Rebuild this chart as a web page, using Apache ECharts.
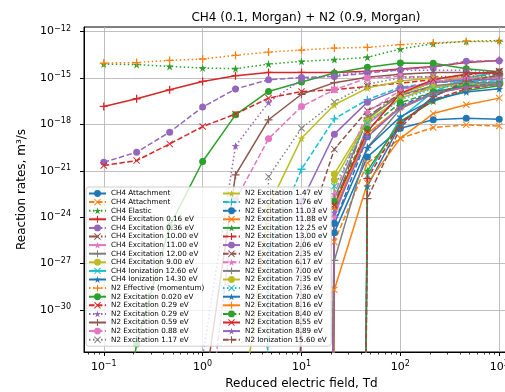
<!DOCTYPE html>
<html>
<head>
<meta charset="utf-8">
<script src="https://cdn.jsdelivr.net/npm/echarts@6/dist/echarts.min.js"></script>
<style>
html, body { margin: 0; padding: 0; background: #fff; }
#chart { width: 505px; height: 392px; }
</style>
</head>
<body>
<div id="chart"></div>
<script>
// reduced electric field E/N, Td
const fieldTd = [0.1, 0.215, 0.464, 1, 2.15, 4.64, 10, 21.5, 46.4, 100, 215, 464, 1000];
// rates stored as log10(k / (m^3/s)); OFF = rate practically zero (below threshold)
const OFF = -300;

const ch4Attach1 = [OFF, OFF, OFF, OFF, OFF, OFF, OFF, -25.0, -20.1, -18.25, -17.7, -17.6, -17.66];
const ch4Attach2 = [OFF, OFF, OFF, OFF, OFF, OFF, OFF, -25.6, -20.5, -18.9, -18.2, -18.03, -18.1];
const ch4Elastic = [-14.1, -14.13, -14.25, -14.35, -14.4, -14.1, -13.92, -13.81, -13.66, -13.12, -12.78, -12.63, -12.58];
const ch4Exc016 = [-16.84, -16.34, -15.76, -15.22, -14.85, -14.64, -14.64, -14.64, -14.57, -14.42, -14.25, -13.99, -13.86];
const ch4Exc036 = [-20.45, -19.8, -18.5, -16.88, -15.71, -15.11, -14.97, -14.9, -14.68, -14.46, -14.3, -13.92, -13.88];
const ch4Exc1000 = [OFF, OFF, OFF, OFF, OFF, OFF, OFF, -23.3, -17.5, -16.0, -15.3, -14.9, -14.75];
const ch4Exc1100 = [OFF, OFF, OFF, OFF, OFF, OFF, OFF, -24.0, -18.0, -16.3, -15.6, -15.2, -15.0];
const ch4Exc1200 = [OFF, OFF, OFF, OFF, OFF, OFF, OFF, -26.8, -19.5, -17.0, -16.0, -15.5, -15.3];
const ch4Exc900 = [OFF, OFF, OFF, OFF, OFF, OFF, OFF, -21.2, -17.7, -16.0, -15.3, -15.0, -14.9];
const ch4Ion1260 = [OFF, OFF, OFF, OFF, OFF, OFF, OFF, OFF, -21.3, -17.6, -15.9, -15.0, -14.6];
const ch4Ion1430 = [OFF, OFF, OFF, OFF, OFF, OFF, OFF, OFF, -22.0, -18.0, -16.2, -15.3, -14.9];
const n2Momentum = [-14.03, -14.0, -13.86, -13.77, -13.53, -13.32, -13.19, -13.06, -13.02, -12.84, -12.73, -12.63, -12.63];
const n2Exc0020 = [-45, -32.2, -24.6, -20.4, -17.38, -15.87, -15.26, -14.68, -14.31, -14.03, -14.05, -14.4, -14.6];
const n2Exc029a = [-20.66, -20.34, -19.26, -18.14, -17.33, -16.3, -15.87, -15.76, -15.54, -15.33, -15.11, -14.79, -14.57];
const n2Exc029b = [OFF, OFF, -60, -33, -19.39, -16.58, -15.1, -14.8, -14.6, -14.5, -14.5, -14.5, -14.6];
const n2Exc059 = [OFF, OFF, OFF, -36, -21.27, -17.7, -16.05, -15.3, -14.95, -14.75, -14.65, -14.65, -14.7];
const n2Exc088 = [OFF, OFF, OFF, -40, -22.9, -18.93, -16.84, -15.76, -15.0, -14.9, -14.95, -15.1, -15.3];
const n2Exc117 = [OFF, OFF, OFF, OFF, OFF, -21.38, -18.25, -16.55, -15.4, -15.0, -14.9, -14.9, -14.95];
const n2Exc147 = [OFF, OFF, OFF, OFF, -40, -23.3, -18.9, -16.73, -15.65, -15.2, -15.0, -15.0, -15.1];
const n2Exc176 = [OFF, OFF, OFF, OFF, OFF, -26, -20.9, -17.64, -16.4, -15.6, -15.3, -15.2, -15.2];
const n2Exc1103 = [OFF, OFF, OFF, OFF, OFF, OFF, OFF, -24.4, -18.8, -16.8, -15.9, -15.5, -15.3];
const n2Exc1188 = [OFF, OFF, OFF, OFF, OFF, OFF, OFF, -28.7, -21.8, -18.9, -17.3, -16.73, -16.3];
const n2Exc1225 = [OFF, OFF, OFF, OFF, OFF, OFF, OFF, OFF, -21.0, -17.8, -16.5, -15.8, -15.5];
const n2Exc1300 = [OFF, OFF, OFF, OFF, OFF, OFF, OFF, OFF, -21.5, -17.9, -16.4, -15.7, -15.4];
const n2Exc206 = [OFF, OFF, OFF, OFF, OFF, OFF, -23.0, -18.63, -16.56, -15.7, -15.3, -15.1, -15.1];
const n2Exc235 = [OFF, OFF, OFF, OFF, OFF, OFF, -26.0, -19.6, -17.1, -16.1, -15.6, -15.4, -15.3];
const n2Exc617 = [OFF, OFF, OFF, OFF, OFF, OFF, OFF, -22.5, -17.2, -15.8, -15.2, -15.0, -15.0];
const n2Exc700 = [OFF, OFF, OFF, OFF, OFF, OFF, OFF, -22.8, -17.6, -16.1, -15.5, -15.3, -15.3];
const n2Exc735 = [OFF, OFF, OFF, OFF, OFF, OFF, OFF, -21.6, -17.8, -16.3, -15.6, -15.4, -15.4];
const n2Exc736 = [OFF, OFF, OFF, OFF, OFF, OFF, OFF, -22.0, -17.9, -16.4, -15.7, -15.4, -15.3];
const n2Exc780 = [OFF, OFF, OFF, OFF, OFF, OFF, OFF, -24.4, -19.5, -17.5, -16.4, -15.9, -15.7];
const n2Exc816 = [OFF, OFF, OFF, OFF, OFF, OFF, OFF, -23.5, -18.6, -16.9, -16.0, -15.6, -15.4];
const n2Exc840 = [OFF, OFF, OFF, OFF, OFF, OFF, OFF, -23.0, -18.3, -16.6, -15.9, -15.5, -15.4];
const n2Exc855 = [OFF, OFF, OFF, OFF, OFF, OFF, OFF, -23.2, -18.46, -16.0, -15.1, -14.75, -14.57];
const n2Exc889 = [OFF, OFF, OFF, OFF, OFF, OFF, OFF, -23.7, -18.8, -16.9, -16.0, -15.6, -15.4];
const n2Ion1560 = [OFF, OFF, OFF, OFF, OFF, OFF, OFF, OFF, -22.8, -18.2, -16.2, -15.2, -14.8];

// tick labels (log10 exponents)
const xTicks = [-1, 0, 1, 2, 3];
const yTicks = [-30, -27, -24, -21, -18, -15, -12];

const palette = ['#1f77b4', '#ff7f0e', '#2ca02c', '#d62728', '#9467bd',
  '#8c564b', '#e377c2', '#7f7f7f', '#bcbd22', '#17becf'];
const marks = {
  circle: { symbol: 'circle', size: 7 },
  x: { symbol: 'path://M-10,-8L-8,-10L0,-2L8,-10L10,-8L2,0L10,8L8,10L0,2L-8,10L-10,8L-2,0Z', size: 7 },
  plus: { symbol: 'path://M-1.6,-10H1.6V-1.6H10V1.6H1.6V10H-1.6V1.6H-10V-1.6H-1.6Z', size: 8 },
  star: { symbol: 'path://M0,-10L2.245,-3.09L9.511,-3.09L3.633,1.18L5.878,8.09L0,3.82L-5.878,8.09L-3.633,1.18L-9.511,-3.09L-2.245,-3.09Z', size: 8 }
};
const dashes = {
  solid: 'solid',
  dashed: [5.5, 2.4],
  dotted: [1.5, 2.5],
  dashdot: [9.6, 2.4, 1.5, 2.4]
};

// name, values, colour index, marker, line style
const curves = [
  ['CH4 Attachment', ch4Attach1, 0, 'circle', 'solid'],
  ['CH4 Attachment ', ch4Attach2, 1, 'x', 'dashed'],
  ['CH4 Elastic', ch4Elastic, 2, 'star', 'dotted'],
  ['CH4 Excitation 0.16 eV', ch4Exc016, 3, 'plus', 'solid'],
  ['CH4 Excitation 0.36 eV', ch4Exc036, 4, 'circle', 'dashed'],
  ['CH4 Excitation 10.00 eV', ch4Exc1000, 5, 'x', 'dashdot'],
  ['CH4 Excitation 11.00 eV', ch4Exc1100, 6, 'star', 'solid'],
  ['CH4 Excitation 12.00 eV', ch4Exc1200, 7, 'plus', 'solid'],
  ['CH4 Excitation 9.00 eV', ch4Exc900, 8, 'circle', 'solid'],
  ['CH4 Ionization 12.60 eV', ch4Ion1260, 9, 'x', 'solid'],
  ['CH4 Ionization 14.30 eV', ch4Ion1430, 0, 'star', 'solid'],
  ['N2 Effective (momentum)', n2Momentum, 1, 'plus', 'dotted'],
  ['N2 Excitation 0.020 eV', n2Exc0020, 2, 'circle', 'solid'],
  ['N2 Excitation 0.29 eV', n2Exc029a, 3, 'x', 'dashed'],
  ['N2 Excitation 0.29 eV ', n2Exc029b, 4, 'star', 'dotted'],
  ['N2 Excitation 0.59 eV', n2Exc059, 5, 'plus', 'solid'],
  ['N2 Excitation 0.88 eV', n2Exc088, 6, 'circle', 'dashed'],
  ['N2 Excitation 1.17 eV', n2Exc117, 7, 'x', 'dotted'],
  ['N2 Excitation 1.47 eV', n2Exc147, 8, 'star', 'solid'],
  ['N2 Excitation 1.76 eV', n2Exc176, 9, 'plus', 'dashed'],
  ['N2 Excitation 11.03 eV', n2Exc1103, 0, 'circle', 'dashed'],
  ['N2 Excitation 11.88 eV', n2Exc1188, 1, 'x', 'solid'],
  ['N2 Excitation 12.25 eV', n2Exc1225, 2, 'star', 'solid'],
  ['N2 Excitation 13.00 eV', n2Exc1300, 3, 'plus', 'dashed'],
  ['N2 Excitation 2.06 eV', n2Exc206, 4, 'circle', 'solid'],
  ['N2 Excitation 2.35 eV', n2Exc235, 5, 'x', 'dashed'],
  ['N2 Excitation 6.17 eV', n2Exc617, 6, 'star', 'dashed'],
  ['N2 Excitation 7.00 eV', n2Exc700, 7, 'plus', 'solid'],
  ['N2 Excitation 7.35 eV', n2Exc735, 8, 'circle', 'solid'],
  ['N2 Excitation 7.36 eV', n2Exc736, 9, 'x', 'dotted'],
  ['N2 Excitation 7.80 eV', n2Exc780, 0, 'star', 'solid'],
  ['N2 Excitation 8.16 eV', n2Exc816, 1, 'plus', 'solid'],
  ['N2 Excitation 8.40 eV', n2Exc840, 2, 'circle', 'dashed'],
  ['N2 Excitation 8.55 eV', n2Exc855, 3, 'x', 'solid'],
  ['N2 Excitation 8.89 eV', n2Exc889, 4, 'star', 'solid'],
  ['N2 Ionization 15.60 eV', n2Ion1560, 5, 'plus', 'dashed']
];

const FONT = 'DejaVu Sans';
const pow10 = v => {
  const e = Math.round(v);
  return '{b|10}{s|' + (e < 0 ? '\u2212' + (-e) : e) + '}';
};
const powRich = {
  b: { fontFamily: FONT, fontSize: 11, color: '#000' },
  s: { fontFamily: FONT, fontSize: 8, color: '#000', padding: [0, 0, 6, 0] }
};

// minor ticks of the log x axis at 2..9 x 10^n
const minorX = [];
for (let n = -2; n <= 3; n++) {
  for (let k = 2; k <= 9; k++) {
    const v = n + Math.log10(k);
    if (v > -1.2 && v < 3.2) minorX.push(v);
  }
}

const series = curves.map(([name, vals, c, m, ls]) => ({
  name: name,
  type: 'line',
  data: fieldTd.map((x, i) => [Math.log10(x), vals[i]]),
  symbol: marks[m].symbol,
  symbolSize: marks[m].size,
  showSymbol: true,
  clip: true,
  lineStyle: { color: palette[c], width: 1.5, type: dashes[ls] },
  itemStyle: { color: palette[c], borderWidth: 0 },
  emphasis: { disabled: true },
  silent: true
}));

const names = curves.map(c => c[0]);
const legendBase = {
  orient: 'vertical',
  itemWidth: 17,
  itemHeight: 8.6,
  itemGap: 1.6,
  selectedMode: false,
  z: 20,
  textStyle: { fontFamily: FONT, fontSize: 7.2, color: '#000' }
};

const chart = echarts.init(document.getElementById('chart'));
chart.setOption({
  animation: false,
  title: {
    text: 'CH4 (0.1, Morgan) + N2 (0.9, Morgan)',
    left: 301, top: 7, textAlign: 'center',
    textStyle: { fontFamily: FONT, fontSize: 12, fontWeight: 'normal', color: '#000' }
  },
  grid: {
    left: 84, top: 27, bottom: 40, width: 435,
    outerBoundsMode: 'none',
    containLabel: false,
    show: true, borderColor: '#000', borderWidth: 1, backgroundColor: 'transparent'
  },
  legend: [
    Object.assign({}, legendBase, {
      data: names.slice(0, 18),
      left: 86, top: 187,
      padding: [3, 127, 3, 2],
      backgroundColor: 'rgba(255,255,255,0.8)',
      borderColor: '#cccccc', borderWidth: 1, borderRadius: 3
    }),
    Object.assign({}, legendBase, {
      data: names.slice(18),
      left: 222, top: 190,
      padding: 0,
      z: 21
    })
  ],
  xAxis: [{
    type: 'value', min: -1.2, max: 3.2,
    name: 'Reduced electric field, Td',
    nameLocation: 'middle', nameGap: 25,
    nameTextStyle: { fontFamily: FONT, fontSize: 12, color: '#000' },
    axisLine: { show: true, onZero: false, lineStyle: { color: '#000', width: 1 } },
    axisTick: { show: true, customValues: xTicks, length: 4, lineStyle: { color: '#000' } },
    axisLabel: { customValues: xTicks, formatter: pow10, rich: powRich, margin: 8 },
    splitLine: { show: true, lineStyle: { color: '#b0b0b0', width: 0.8 } }
  }, {
    type: 'value', min: -1.2, max: 3.2, position: 'bottom',
    axisLine: { show: false, onZero: false },
    axisTick: { show: true, customValues: minorX, length: 2.5, lineStyle: { color: '#000', width: 0.8 } },
    axisLabel: { show: false },
    splitLine: { show: false }
  }],
  yAxis: {
    type: 'value', min: -32.72, max: -11.7,
    name: 'Reaction rates, m\u00b3/s',
    nameLocation: 'middle', nameGap: 56,
    nameTextStyle: { fontFamily: FONT, fontSize: 12, color: '#000' },
    axisLine: { show: true, onZero: false, lineStyle: { color: '#000', width: 1 } },
    axisTick: { show: true, customValues: yTicks, length: 4, lineStyle: { color: '#000' } },
    axisLabel: { customValues: yTicks, formatter: pow10, rich: powRich, margin: 13 },
    splitLine: { show: true, lineStyle: { color: '#b0b0b0', width: 0.8 } }
  },
  series: series
});
</script>
</body>
</html>
